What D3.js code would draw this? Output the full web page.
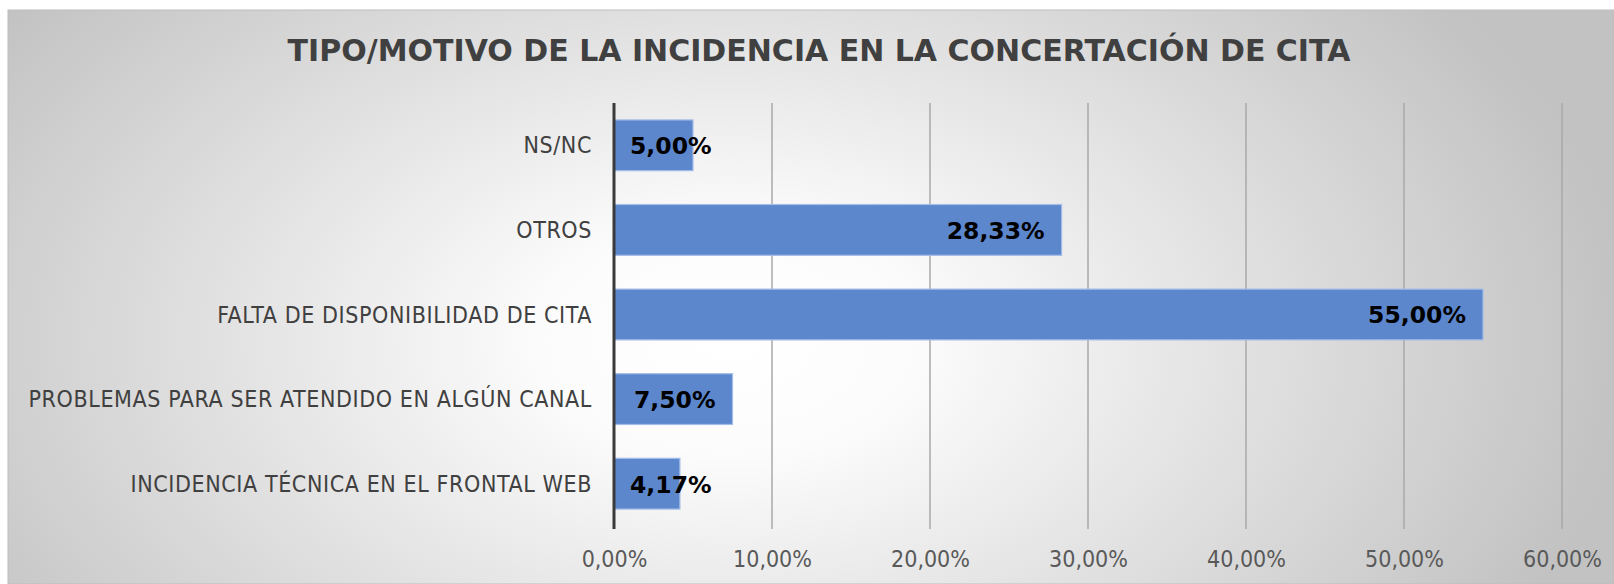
<!DOCTYPE html>
<html>
<head>
<meta charset="utf-8">
<script src="https://cdn.jsdelivr.net/npm/d3@7"></script>
<style>
  body { margin: 0; background: #fff; }
  svg { display: block; }
  .cond { font-family: "DejaVu Sans Condensed", "DejaVu Sans", sans-serif; font-stretch: condensed; }
</style>
</head>
<body>
<div id="chart"></div>
<script>
// data (top to bottom)
const categories = ["NS/NC", "OTROS", "FALTA DE DISPONIBILIDAD DE CITA",
                    "PROBLEMAS PARA SER ATENDIDO EN ALGÚN CANAL", "INCIDENCIA TÉCNICA EN EL FRONTAL WEB"];
const values = [5.00, 28.33, 55.00, 7.50, 4.17];
const xTicks = [0, 10, 20, 30, 40, 50, 60];
const title = "TIPO/MOTIVO DE LA INCIDENCIA EN LA CONCERTACIÓN DE CITA";

const width = 1614, height = 584;
const margin = {top: 103, right: 52, bottom: 58, left: 614};

const fmt = v => v.toFixed(2).replace(".", ",") + "%";

const svg = d3.select("#chart").append("svg")
    .attr("width", width)
    .attr("height", height);

// background gradient for the chart box
const defs = svg.append("defs");
const grad = defs.append("radialGradient")
    .attr("id", "bg")
    .attr("gradientUnits", "userSpaceOnUse")
    .attr("cx", 730).attr("cy", 340).attr("r", 900)
    .attr("gradientTransform", "translate(730,340) scale(1,0.62) translate(-730,-340)");
grad.append("stop").attr("offset", 0).attr("stop-color", "#ffffff");
grad.append("stop").attr("offset", 0.2).attr("stop-color", "#fcfcfc");
grad.append("stop").attr("offset", 1).attr("stop-color", "#c2c2c2");

svg.append("rect")
    .attr("x", 8).attr("y", 10)
    .attr("width", width - 8).attr("height", height - 10)
    .attr("fill", "url(#bg)")
    .attr("stroke", "#bdbdbd").attr("stroke-width", 1);

// scales
const x = d3.scaleLinear()
    .domain([0, 60])
    .range([margin.left, width - margin.right]);

const y = d3.scaleBand()
    .domain(categories)
    .range([margin.top, height - margin.bottom])
    .paddingInner(0.4)
    .paddingOuter(0.2);

// title
svg.append("text")
    .attr("x", 819).attr("y", 61)
    .attr("text-anchor", "middle")
    .attr("font-family", "'DejaVu Sans', Verdana, sans-serif")
    .attr("font-weight", "bold")
    .attr("font-size", 30)
    .attr("fill", "#404040")
    .text(title);

// gridlines
svg.append("g")
    .selectAll("line")
    .data(xTicks.slice(1))
    .join("line")
    .attr("x1", d => x(d)).attr("x2", d => x(d))
    .attr("y1", margin.top).attr("y2", height - margin.bottom + 3)
    .attr("stroke", "#a8a8a8")
    .attr("stroke-width", 1.5);

// bars
svg.append("g")
    .selectAll("rect")
    .data(values)
    .join("rect")
    .attr("x", x(0))
    .attr("y", (d, i) => y(categories[i]))
    .attr("width", d => x(d) - x(0))
    .attr("height", y.bandwidth())
    .attr("fill", "#5d87cd")
    .attr("stroke", "#a3bde6")
    .attr("stroke-width", 1.2);

// vertical axis line
svg.append("line")
    .attr("x1", x(0)).attr("x2", x(0))
    .attr("y1", margin.top).attr("y2", height - margin.bottom + 3)
    .attr("stroke", "#3a3a3a")
    .attr("stroke-width", 3);

// x axis tick labels
const xAxis = d3.axisBottom(x)
    .tickValues(xTicks)
    .tickFormat(fmt)
    .tickSize(0)
    .tickPadding(0);

const gx = svg.append("g")
    .attr("transform", `translate(0,${height - margin.bottom + 25})`)
    .call(xAxis);
gx.select(".domain").remove();
gx.selectAll("text")
    .attr("class", "cond")
    .attr("font-size", 23)
    .attr("fill", "#595959")
    .attr("dy", "0.71em");

// category labels
const yAxis = d3.axisLeft(y).tickSize(0).tickPadding(22);
const gy = svg.append("g")
    .attr("transform", `translate(${x(0)},0)`)
    .call(yAxis);
gy.select(".domain").remove();
gy.selectAll("text")
    .attr("class", "cond")
    .attr("font-size", 23)
    .attr("letter-spacing", 0.6)
    .attr("fill", "#404040")
    .attr("dy", "0.35em");

// data labels: inside end, but never before the base
const labels = svg.append("g")
    .selectAll("text")
    .data(values)
    .join("text")
    .attr("font-family", "'DejaVu Sans', Verdana, sans-serif")
    .attr("font-weight", "bold")
    .attr("font-size", 23.5)
    .attr("fill", "#000")
    .attr("y", (d, i) => y(categories[i]) + y.bandwidth() / 2)
    .attr("dy", "0.38em")
    .text(fmt);

labels.attr("x", function(d) {
    const w = this.getComputedTextLength();
    return Math.max(x(d) - 17 - w, x(0) + 16);
});
</script>
</body>
</html>
